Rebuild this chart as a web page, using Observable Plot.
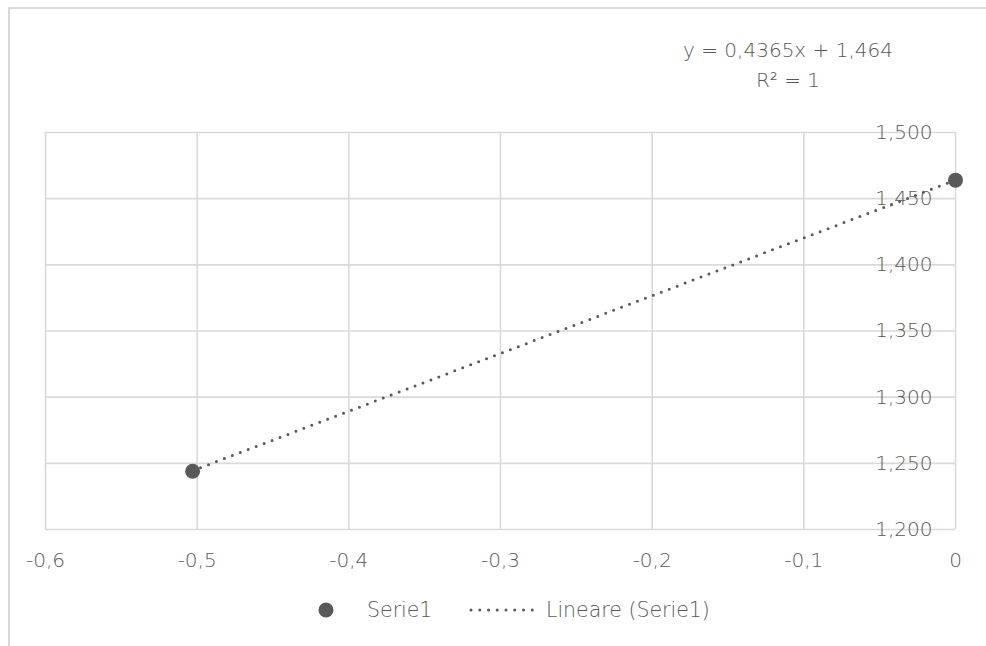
<!DOCTYPE html>
<html>
<head>
<meta charset="utf-8">
<script src="https://cdn.jsdelivr.net/npm/d3@7"></script>
<script src="https://cdn.jsdelivr.net/npm/@observablehq/plot@0.6"></script>
<style>
  html, body { margin: 0; padding: 0; background: #fff; }
  #wrap { position: relative; width: 986px; height: 646px; overflow: hidden;
          font-family: "DejaVu Sans", "Lato", sans-serif; font-weight: 200; color: #595959; }
  #frame { position: absolute; left: 8px; top: 7px; width: 1000px; height: 700px;
           border-top: 2px solid #d9d9d9; border-left: 2px solid #d9d9d9; box-sizing: border-box; }
  #eq { position: relative; height: 100px; }
  #eq div { position: absolute; left: 638px; width: 300px; text-align: center; font-size: 20px; line-height: 22px; }
  #legend { position: absolute; left: 0; top: 570px; width: 986px; height: 76px; font-size: 20.5px; }
  .item { position: absolute; top: 29px; height: 22px; line-height: 22px; display: flex; align-items: center; }
  svg.chart { display: block; }
</style>
</head>
<body>
<div id="wrap">
  <div id="frame"></div>
  <div id="eq"></div>
  <div id="chart"></div>
  <div id="legend"></div>
</div>
<script>
// Data
const seriesName = "Serie1";
const trendName = "Lineare (Serie1)";
const xValues = [-0.503, 0];
const yValues = [1.244, 1.464];
const slope = 0.4365;
const intercept = 1.464;
const rSquared = 1;
const xTicks = [-0.6, -0.5, -0.4, -0.3, -0.2, -0.1, 0];
const yTicks = [1.2, 1.25, 1.3, 1.35, 1.4, 1.45, 1.5];

const points = xValues.map((x, i) => ({x, y: yValues[i]}));
const trend = xValues.map(x => ({x, y: slope * x + intercept}));

const loc = d3.formatLocale({decimal: ",", thousands: ".", grouping: [3], currency: ["", "€"], minus: "-"});
const fx = loc.format(".1~f");
const fy = loc.format(".3f");

const grey = "#595959";
const gridColor = "#d9d9d9";

const eq = document.getElementById("eq");
eq.innerHTML = `<div style="top:39px">y = ${loc.format(".4~f")(slope)}x + ${loc.format(".3~f")(intercept)}</div>
<div style="top:69px">R² = ${rSquared}</div>`;

const chart = Plot.plot({
  width: 986,
  height: 510,
  marginLeft: 45,
  marginRight: 31,
  marginTop: 32,
  marginBottom: 81,
  style: {fontFamily: '"DejaVu Sans", "Lato", sans-serif', fontWeight: 200, fontSize: "20px", color: grey, background: "transparent"},
  x: {domain: [-0.6, 0]},
  y: {domain: [1.2, 1.5]},
  marks: [
    Plot.gridX(xTicks, {stroke: gridColor, strokeOpacity: 1, strokeWidth: 1.6}),
    Plot.gridY(yTicks, {stroke: gridColor, strokeOpacity: 1, strokeWidth: 1.6}),
    Plot.axisX(xTicks, {tickSize: 0, tickPadding: 23, tickFormat: fx, fill: grey, fontSize: 20, label: null}),
    Plot.axisY(yTicks, {anchor: "right", tickSize: 0, tickPadding: 0, textAnchor: "end", dx: -23, tickFormat: fy, fill: grey, fontSize: 20, label: null}),
    Plot.line(trend, {x: "x", y: "y", stroke: grey, strokeWidth: 3, strokeDasharray: "0 8.5", strokeLinecap: "round"}),
    Plot.dot(points, {x: "x", y: "y", r: 7.5, fill: grey, stroke: "none"})
  ]
});
chart.classList.add("chart");
document.getElementById("chart").appendChild(chart);

const legend = document.getElementById("legend");
legend.innerHTML = `
<div class="item" style="left:318px">
  <svg width="16" height="16" style="margin-right:33px"><circle cx="8" cy="8" r="7.5" fill="${grey}"/></svg>
  <span>${seriesName}</span>
</div>
<div class="item" style="left:468px">
  <svg width="76" height="16" style="margin-right:2px"><line x1="3" y1="8" x2="73" y2="8" stroke="${grey}" stroke-width="3" stroke-dasharray="0 8.75" stroke-linecap="round"/></svg>
  <span>${trendName}</span>
</div>`;
</script>
</body>
</html>
